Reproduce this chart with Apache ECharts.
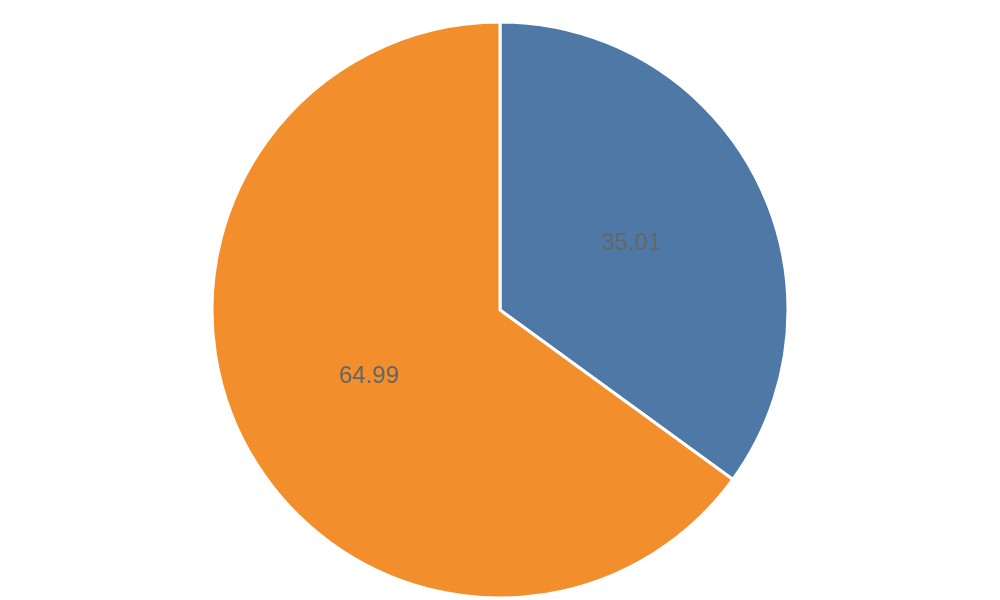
<!DOCTYPE html>
<html>
<head>
<meta charset="utf-8">
<script src="https://cdn.jsdelivr.net/npm/echarts@6/dist/echarts.min.js"></script>
<style>html,body{margin:0;padding:0;background:#fff}#c{width:1000px;height:600px}</style>
</head>
<body>
<div id="c"></div>
<script>
const categories = ['A', 'B'];
const values = [35.01, 64.99];
const colors = ['#4e79a7', '#f28e2b'];

const chart = echarts.init(document.getElementById('c'), null, {renderer: 'canvas'});
chart.setOption({
  animation: false,
  series: [{
    type: 'pie',
    center: [500, 310],
    radius: 288,
    startAngle: 90,
    clockwise: true,
    data: categories.map((c, i) => ({name: c, value: values[i], itemStyle: {color: colors[i]}})),
    itemStyle: {borderColor: '#ffffff', borderWidth: 3},
    label: {
      position: 'inside',
      formatter: p => p.value.toFixed(2),
      color: '#666666',
      fontSize: 24,
      fontFamily: 'Arial'
    },
    labelLine: {show: false},
    emphasis: {disabled: true}
  }]
});
</script>
</body>
</html>
